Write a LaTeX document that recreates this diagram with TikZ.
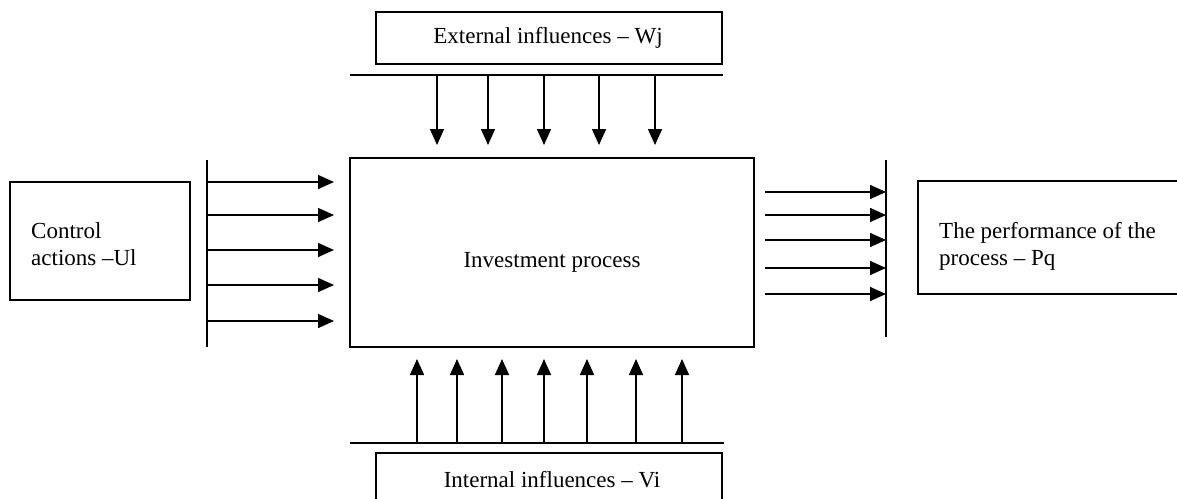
\documentclass[tikz,border=0pt]{standalone}
\usepackage{fontspec}
\setmainfont{Liberation Serif}
\usetikzlibrary{arrows.meta}
\begin{document}
\begin{tikzpicture}[x=1pt,y=-1pt,
  box/.style={draw,line width=1.5pt,inner sep=0pt},
  bar/.style={line width=1.5pt},
  arr/.style={line width=1.5pt,-{Triangle[length=16pt,width=14pt]}},
  lbl/.style={font=\fontsize{23}{27.5}\selectfont,inner sep=0pt}]
\useasboundingbox (0,0) rectangle (1177,498);
\fill[white] (0,0) rectangle (1177,498);

% boxes
\draw[box] (350,158) rectangle (754,347);
\node[lbl] (proc) at (552,262) {Investment process};
\draw[box] (376,12) rectangle (722,64);
\node[lbl] (ext) at (548,38) {External influences -- Wj};
\draw[box] (10,182) rectangle (190,300);
\node[lbl,align=left,anchor=north west] (ctl) at (31,222) {Control\\actions --Ul};
\draw[box] (918,181) rectangle (1180,294);
\node[lbl,align=left,anchor=north west] (perf) at (939,222) {The performance of the\\process -- Pq};
\draw[box] (376,453) rectangle (722,505);
\node[lbl] (int) at (552,480) {Internal influences -- Vi};

% collecting bars
\coordinate (tbL) at (350,75);  \coordinate (tbR) at (723,75);
\coordinate (lbT) at (207,160); \coordinate (lbB) at (207,347);
\coordinate (rbT) at (886,160); \coordinate (rbB) at (886,337);
\coordinate (bbL) at (350,443); \coordinate (bbR) at (724,443);
\draw[bar] (tbL) -- (tbR);
\draw[bar] (lbT) -- (lbB);
\draw[bar] (rbT) -- (rbB);
\draw[bar] (bbL) -- (bbR);

% external influences
\foreach \x [count=\i] in {437,488,544,599,655} {
  \coordinate (t\i) at (\x,75);
  \coordinate (te\i) at (\x,145);
  \draw[arr] (t\i) -- (te\i);
}
% control actions
\foreach \y [count=\i] in {182,215,250,285,321} {
  \coordinate (l\i) at (207,\y);
  \coordinate (le\i) at (334,\y);
  \draw[arr] (l\i) -- (le\i);
}
% performance indicators
\foreach \y [count=\i] in {192,215,240,268,294} {
  \coordinate (r\i) at (765,\y);
  \coordinate (re\i) at (886,\y);
  \draw[arr] (r\i) -- (re\i);
}
% internal influences
\foreach \x [count=\i] in {417,457,502,544,587,636,682} {
  \coordinate (b\i) at (\x,443);
  \coordinate (be\i) at (\x,359);
  \draw[arr] (b\i) -- (be\i);
}
\end{tikzpicture}
\end{document}
